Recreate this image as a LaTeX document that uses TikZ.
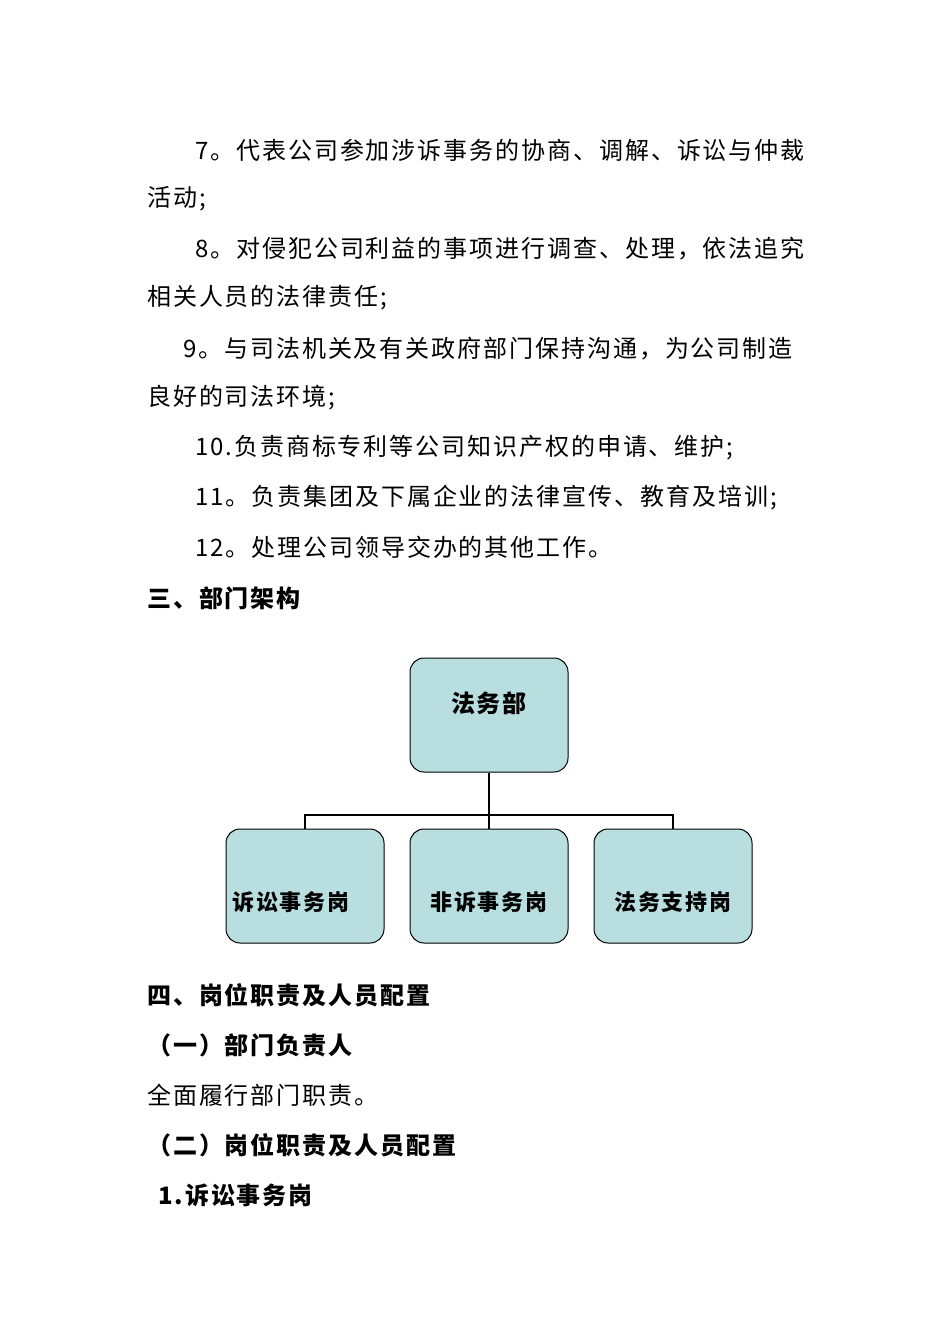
\documentclass[tikz,border=0pt]{standalone}
\usepackage{fontspec}
\setmainfont{Noto Sans CJK SC}[LetterSpace=8]
\begin{document}
\begin{tikzpicture}[x=1pt,y=-1pt,
  txt/.style={anchor=west,inner sep=0pt,font=\fontsize{24}{24}\selectfont},
  btxt/.style={anchor=west,inner sep=0pt,font=\fontsize{24}{24}\selectfont\bfseries},
  orgbox/.style={draw=black,line width=1pt,fill={rgb,255:red,184;green,222;blue,224},rounded corners=14pt,minimum width=158pt,minimum height=114pt,inner sep=0pt},
  blab/.style={font=\fontsize{22}{22}\selectfont\bfseries},
  conn/.style={line width=2.5pt}]
\useasboundingbox (0,0) rectangle (950,1344);
\fill[white] (0,0) rectangle (950,1344);
\node[txt] (l1) at (195,150) {7。代表公司参加涉诉事务的协商、调解、诉讼与仲裁};
\node[txt] (l2) at (147,199) {活动;};
\node[txt] (l3) at (195,249) {8。对侵犯公司利益的事项进行调查、处理，依法追究};
\node[txt] (l4) at (147,298) {相关人员的法律责任;};
\node[txt] (l5) at (183,349) {9。与司法机关及有关政府部门保持沟通，为公司制造};
\node[txt] (l6) at (147,398) {良好的司法环境;};
\node[txt] (l7) at (195,448) {10.负责商标专利等公司知识产权的申请、维护;};
\node[txt] (l8) at (195,498) {11。负责集团及下属企业的法律宣传、教育及培训;};
\node[txt] (l9) at (195,547) {12。处理公司领导交办的其他工作。};
\node[btxt] (h3) at (147,598) {三、部门架构};
\node[orgbox] (top) at (489,715) {};
\node[font=\fontsize{24}{24}\selectfont\bfseries] (toplab) at (489,703) {法务部};
\node[orgbox] (b1) at (305,886) {};
\node[orgbox] (b2) at (489,886) {};
\node[orgbox] (b3) at (673,886) {};
\node[blab] (b1l) at (291,902) {诉讼事务岗};
\node[blab] (b2l) at (489,902) {非诉事务岗};
\node[blab] (b3l) at (673,902) {法务支持岗};
\coordinate (bus) at (489,815);
\draw[conn] (top.south) -- (bus);
\draw[conn] (b1.north) -- (b1.north |- bus) -- (b3.north |- bus) -- (b3.north);
\draw[conn] (b2.north) -- (bus);
\node[btxt] (h4) at (147,995) {四、岗位职责及人员配置};
\node[btxt] (h41) at (147,1045) {（一）部门负责人};
\node[txt] (p1) at (147,1095) {全面履行部门职责。};
\node[btxt] (h42) at (147,1145) {（二）岗位职责及人员配置};
\node[btxt] (h5) at (158,1195) {1.诉讼事务岗};
\end{tikzpicture}
\end{document}
